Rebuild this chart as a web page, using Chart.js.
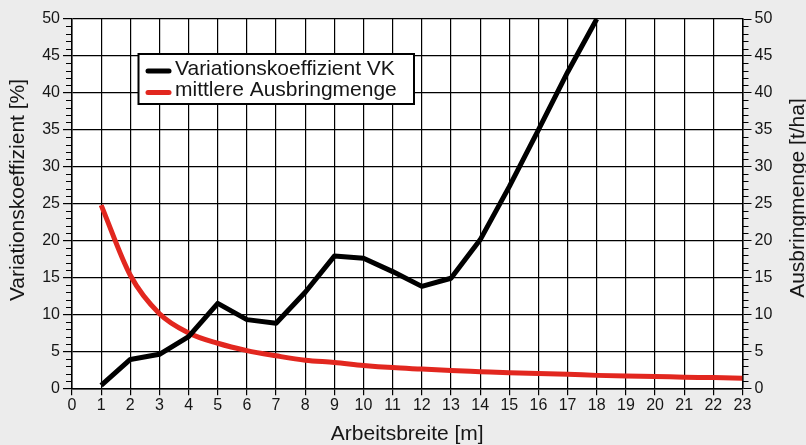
<!DOCTYPE html>
<html>
<head>
<meta charset="utf-8">
<script src="https://cdn.jsdelivr.net/npm/chart.js@4/dist/chart.umd.min.js"></script>
<style>
  html, body { margin: 0; padding: 0; background: #ececec; }
  #wrap { width: 806px; height: 445px; }
</style>
</head>
<body>
<div id="wrap"><canvas id="c" width="806" height="445"></canvas></div>
<script>
// Arbeitsbreite in m
const arbeitsbreite = [1, 2, 3, 4, 5, 6, 7, 8, 9, 10, 11, 12, 13, 14, 15, 16, 17, 18, 19, 20, 21, 22, 23];
// Variationskoeffizient VK in % (bis 18 m)
const variationskoeffizient = [0.4, 3.9, 4.6, 7.0, 11.5, 9.3, 8.8, 13.0, 17.9, 17.6, 15.8, 13.8, 14.9, 20.1, 27.3, 35.0, 42.8, 50.0];
// mittlere Ausbringmenge in t/ha
const ausbringmenge = [24.8, 15.3, 10.1, 7.5, 6.1, 5.1, 4.4, 3.8, 3.5, 3.1, 2.8, 2.6, 2.4, 2.25, 2.1, 2.0, 1.9, 1.75, 1.65, 1.6, 1.5, 1.45, 1.35];

const seriesNames = ['Variationskoeffizient VK', 'mittlere Ausbringmenge'];
const xTitle = 'Arbeitsbreite [m]';
const yLeftTitle = 'Variationskoeffizient [%]';
const yRightTitle = 'Ausbringmenge [t/ha]';
const xMin = 0, xMax = 23;
const yMin = 0, yMax = 50, yMajor = 5, yMinor = 1;

const FONT = '"Liberation Sans", Arial, Helvetica, sans-serif';
const TEXT = '#161616';
const BLACK = '#000000';
const RED = '#e2271f';

Chart.defaults.font.family = FONT;
Chart.defaults.color = TEXT;

const vkPoints = variationskoeffizient.map((v, i) => ({ x: arbeitsbreite[i], y: v }));
const ratePoints = ausbringmenge.map((v, i) => ({ x: arbeitsbreite[i], y: v }));

// white plot area behind the grid
const plotBackground = {
  id: 'plotBackground',
  beforeDraw(chart) {
    const { ctx, chartArea: a } = chart;
    ctx.save();
    ctx.fillStyle = '#ffffff';
    ctx.fillRect(a.left, a.top, a.right - a.left, a.bottom - a.top);
    ctx.restore();
  }
};

// minor tick marks on both value axes, the rotated axis titles and the legend box
const decorations = {
  id: 'decorations',
  afterDraw(chart) {
    const { ctx, chartArea: a } = chart;
    const yl = chart.scales.y;
    ctx.save();
    ctx.strokeStyle = BLACK;
    ctx.lineWidth = 1;
    for (let v = yMin; v <= yMax; v += yMinor) {
      if (v % yMajor === 0) continue;
      const py = Math.round(yl.getPixelForValue(v)) + 0.5;
      ctx.beginPath();
      ctx.moveTo(a.left - 6, py); ctx.lineTo(a.left, py);
      ctx.moveTo(a.right, py); ctx.lineTo(a.right + 6, py);
      ctx.stroke();
    }

    // axis titles, both reading upwards
    ctx.fillStyle = TEXT;
    ctx.font = '21px ' + FONT;
    ctx.textAlign = 'center';
    ctx.textBaseline = 'alphabetic';
    ctx.save();
    ctx.translate(23.5, 190);
    ctx.rotate(-Math.PI / 2);
    ctx.fillText(yLeftTitle, 0, 0);
    ctx.restore();
    ctx.save();
    ctx.translate(804, 198);
    ctx.rotate(-Math.PI / 2);
    ctx.fillText(yRightTitle, 0, 0);
    ctx.restore();

    // legend
    const bx = 138.5, by = 54, bw = 275.5, bh = 50;
    ctx.fillStyle = '#ffffff';
    ctx.fillRect(bx, by, bw, bh);
    ctx.strokeStyle = BLACK;
    ctx.lineWidth = 2;
    ctx.strokeRect(bx, by, bw, bh);
    const rows = [71, 92.5];
    chart.data.datasets.forEach((ds, i) => {
      ctx.beginPath();
      ctx.strokeStyle = ds.borderColor;
      ctx.lineWidth = 5;
      ctx.lineCap = 'round';
      ctx.moveTo(148, rows[i]);
      ctx.lineTo(169, rows[i]);
      ctx.stroke();
      ctx.fillStyle = TEXT;
      ctx.font = '21px ' + FONT;
      ctx.textAlign = 'left';
      ctx.textBaseline = 'middle';
      ctx.fillText(ds.label, 175, rows[i] - 2);
    });
    ctx.restore();
  }
};

new Chart(document.getElementById('c'), {
  type: 'line',
  data: {
    datasets: [
      {
        label: seriesNames[0],
        data: vkPoints,
        yAxisID: 'y',
        borderColor: BLACK,
        backgroundColor: BLACK,
        borderWidth: 5,
        borderCapStyle: 'butt',
        borderJoinStyle: 'round',
        pointRadius: 0,
        tension: 0
      },
      {
        label: seriesNames[1],
        data: ratePoints,
        yAxisID: 'y2',
        borderColor: RED,
        backgroundColor: RED,
        borderWidth: 5,
        borderCapStyle: 'butt',
        borderJoinStyle: 'round',
        pointRadius: 0,
        cubicInterpolationMode: 'monotone'
      }
    ]
  },
  options: {
    responsive: false,
    animation: false,
    layout: { padding: { top: 19, left: 0, right: 0, bottom: 0 } },
    plugins: {
      legend: { display: false },
      tooltip: { enabled: false }
    },
    scales: {
      x: {
        type: 'linear',
        position: 'bottom',
        min: xMin,
        max: xMax,
        ticks: { stepSize: 1, padding: 1, maxRotation: 0, autoSkip: false, color: TEXT, font: { size: 16 } },
        grid: { color: BLACK, lineWidth: 1.2, tickLength: 7, tickColor: BLACK },
        border: { color: BLACK, width: 1.5 },
        title: { display: true, text: xTitle, color: TEXT, font: { size: 21, lineHeight: 1 }, padding: { top: 0, bottom: 0 } },
        afterFit(scale) { scale.height = 56.7; }
      },
      y: {
        position: 'left',
        min: yMin,
        max: yMax,
        ticks: { stepSize: yMajor, padding: 3, color: TEXT, font: { size: 16 } },
        grid: { color: BLACK, lineWidth: 1.2, tickLength: 9, tickColor: BLACK },
        border: { color: BLACK, width: 1.5 },
        afterFit(scale) { scale.width = 72; }
      },
      y2: {
        position: 'right',
        min: yMin,
        max: yMax,
        ticks: { stepSize: yMajor, padding: 3, color: TEXT, font: { size: 16 } },
        grid: { drawOnChartArea: false, tickLength: 9, tickColor: BLACK },
        border: { color: BLACK, width: 1.5 },
        afterFit(scale) { scale.width = 63.5; }
      }
    }
  },
  plugins: [plotBackground, decorations]
});
</script>
</body>
</html>
